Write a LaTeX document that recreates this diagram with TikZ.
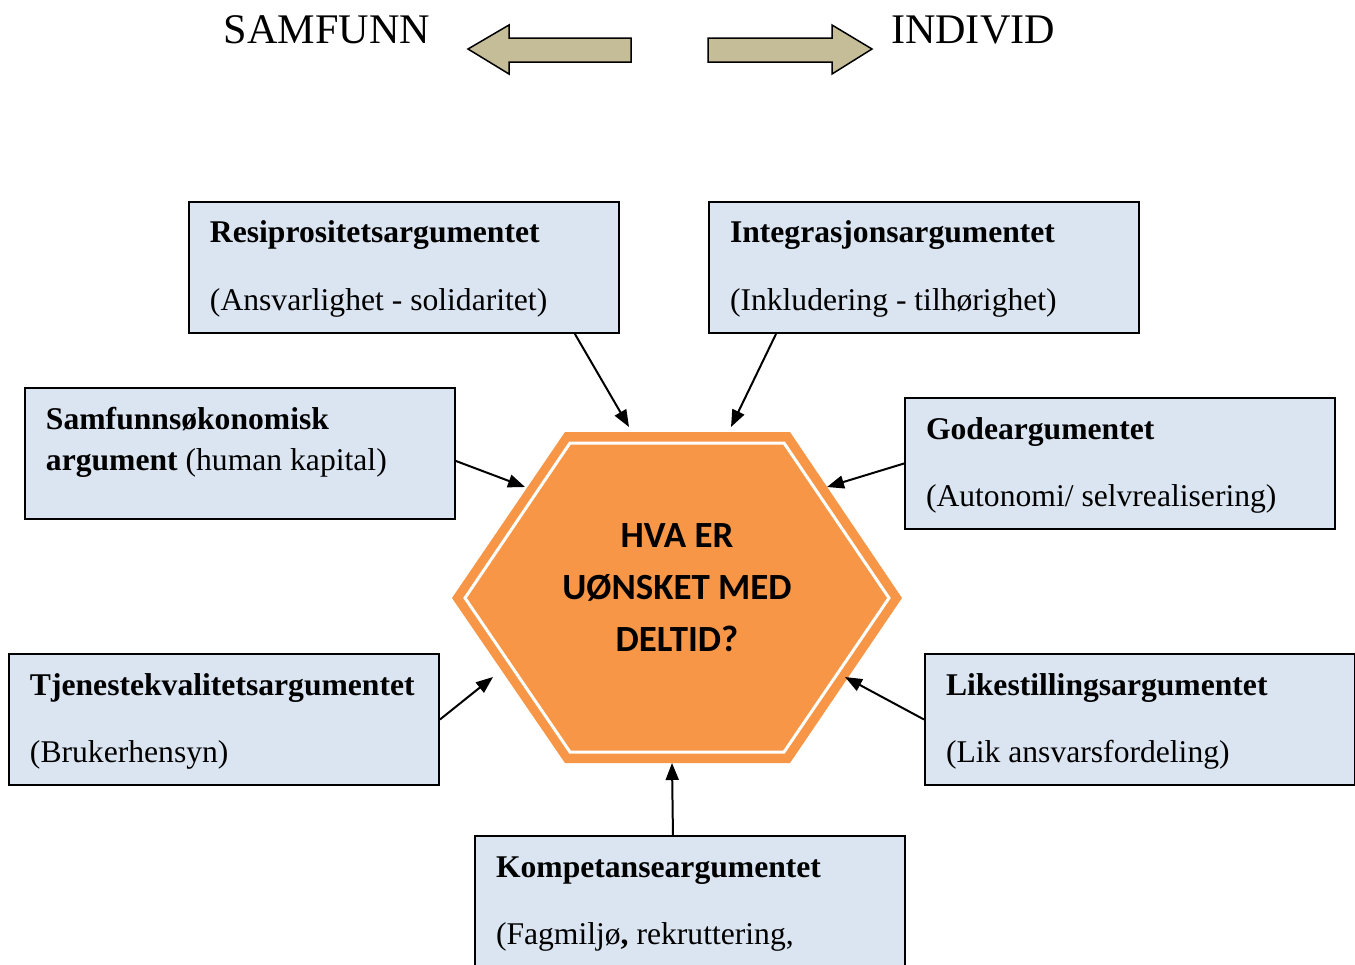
\documentclass[tikz,border=0pt]{standalone}
\usepackage{fontspec}
\setmainfont{Liberation Serif}
\newfontfamily\hexfont{Carlito}
\usetikzlibrary{arrows.meta}
\definecolor{boxblue}{HTML}{DBE5F1}
\definecolor{hexorange}{HTML}{F79646}
\definecolor{arrowtan}{HTML}{C4BD97}

\begin{document}
\begin{tikzpicture}[
        x=0.02cm, y=-0.02cm,
        argbox/.style={rectangle, draw, line width=0.04cm, fill=boxblue, anchor=north west,
            minimum width=8.6cm, minimum height=2.62cm, inner xsep=0.42cm, inner ysep=0pt,
            text width=7.76cm, align=flush left, text height=0.82cm, text depth=1.8cm,
            font=\fontsize{18}{38.5}\selectfont},
        msg/.style={-{Triangle[length=0.34cm, width=0.26cm]}, line width=0.04cm},
        bigarrow/.style={draw, fill=arrowtan, line width=0.03cm, line join=miter},
        sidetitle/.style={font=\fontsize{24}{28}\selectfont}
    ]
        \useasboundingbox (0,0) rectangle (1355,964);

        \node[sidetitle] (samfunn_title) at (327,30) {SAMFUNN};
        \node[sidetitle] (individ_title) at (973,30) {INDIVID};
        \draw[bigarrow] (468,49) -- (509,25) -- (509,38) -- (631,38) -- (631,62) -- (509,62) -- (509,74) -- cycle;
        \draw[bigarrow] (872,49) -- (832,25) -- (832,38) -- (708,38) -- (708,62) -- (832,62) -- (832,74) -- cycle;

        \fill[hexorange] (565,432) -- (790,432) -- (902,598) -- (790,763) -- (565,763) -- (452,598) -- cycle;
        \draw[white, line width=0.06cm] (570,443) -- (784,443) -- (889,598) -- (784,752) -- (570,752) -- (465,598) -- cycle;
        \node[font=\hexfont\bfseries\fontsize{21}{29.6}\selectfont, align=center] (question) at (677,588) {HVA ER\\UØNSKET MED\\DELTID?};

        \coordinate (tip_resip) at (629,427);
        \coordinate (tip_integ) at (731,427);
        \coordinate (tip_samf) at (525,487);
        \coordinate (tip_gode) at (827,487);
        \coordinate (tip_tjen) at (493,677);
        \coordinate (tip_like) at (845,677);
        \coordinate (tip_komp) at (672,763);

        \node[argbox] (resip_box) at (188,201) {\textbf{Resiprositetsargumentet}\\(Ansvarlighet - solidaritet)};
        \node[argbox] (integ_box) at (708,201) {\textbf{Integrasjonsargumentet}\\(Inkludering - tilhørighet)};
        \node[argbox, font=\fontsize{18}{23.8}\selectfont] (samf_box) at (24,387) {\textbf{Samfunnsøkonomisk}\\\textbf{argument} (human kapital)};
        \node[argbox] (gode_box) at (904,397) {\textbf{Godeargumentet}\\(Autonomi/ selvrealisering)};
        \node[argbox] (tjen_box) at (8,653) {\textbf{Tjenestekvalitetsargumentet}\\(Brukerhensyn)};
        \node[argbox] (like_box) at (924,653) {\textbf{Likestillingsargumentet}\\(Lik ansvarsfordeling)};
        \node[argbox] (komp_box) at (474,835) {\textbf{Kompetanseargumentet}\\(Fagmiljø\textbf{,} rekruttering,};

        \draw[msg] ([xshift=-0.9cm]resip_box.south east) -- (tip_resip);
        \draw[msg] ([xshift=1.36cm]integ_box.south west) -- (tip_integ);
        \draw[msg] ([yshift=-0.15cm]samf_box.east) -- (tip_samf);
        \draw[msg] (gode_box.west) -- (tip_gode);
        \draw[msg] (tjen_box.east) -- (tip_tjen);
        \draw[msg] (like_box.west) -- (tip_like);
        \draw[msg] ([xshift=-0.34cm]komp_box.north) -- (tip_komp);
    \end{tikzpicture}
\end{document}
